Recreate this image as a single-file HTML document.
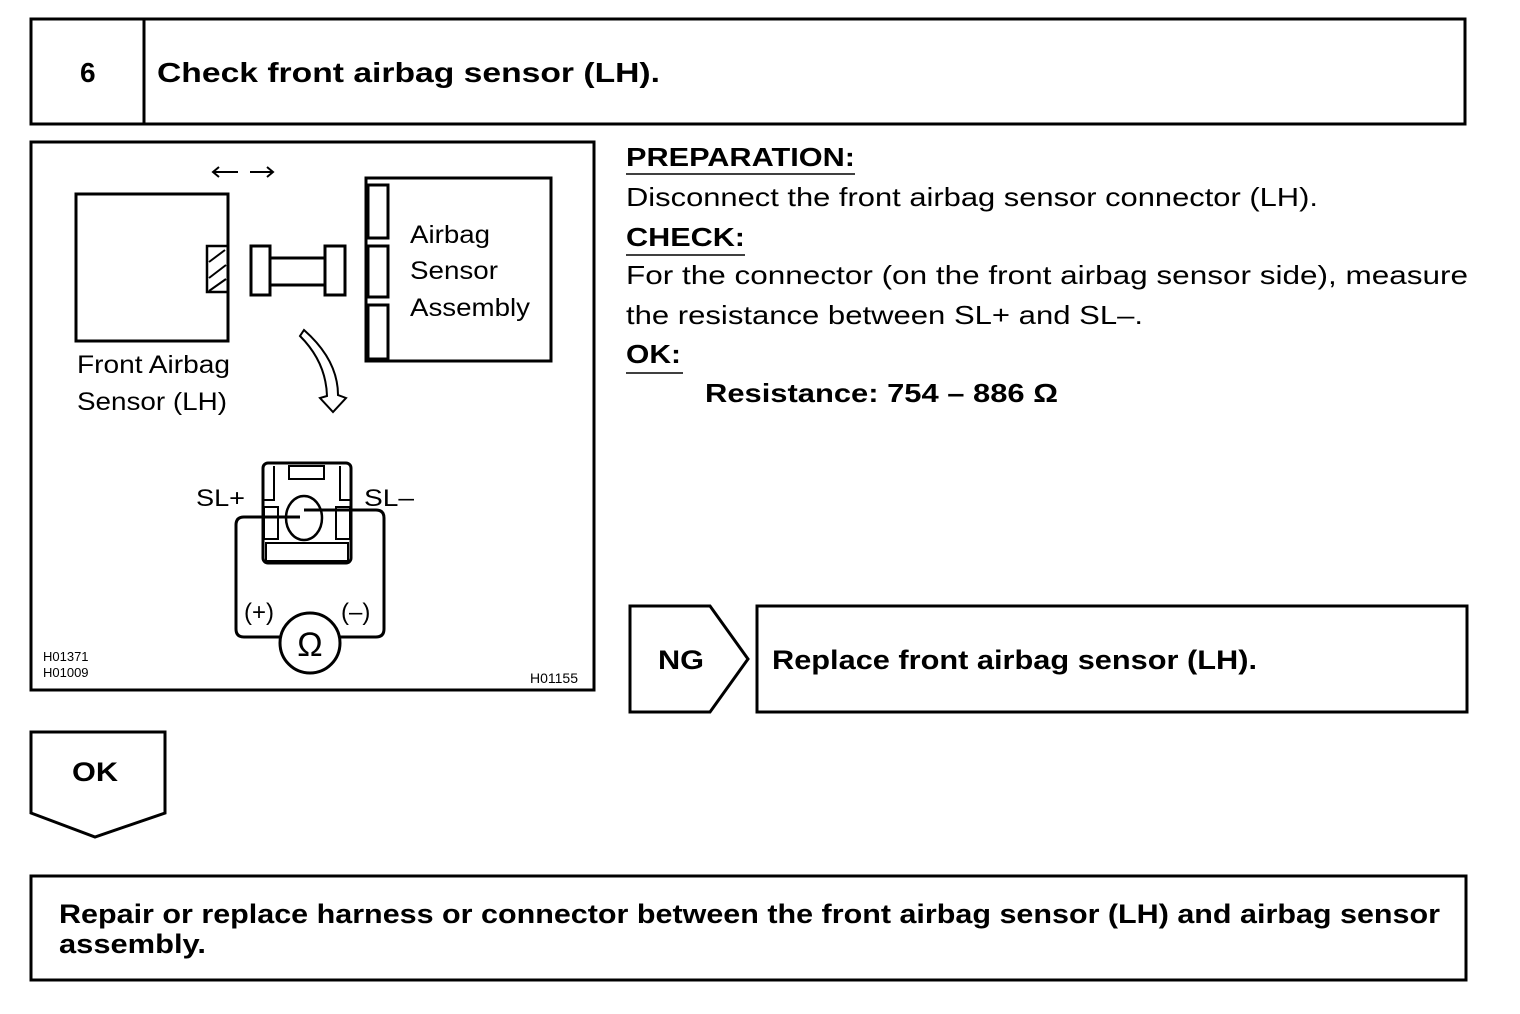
<!DOCTYPE html>
<html><head><meta charset="utf-8"><style>
body{margin:0;background:#fff;}
svg{display:block}
text{font-family:"Liberation Sans",Arial,sans-serif;fill:#000}
.b{font-weight:bold}
</style></head><body>
<svg width="1520" height="1014" viewBox="0 0 1520 1014" xmlns="http://www.w3.org/2000/svg">
<g fill="none" stroke="#000" stroke-width="3">
<rect x="31" y="19" width="1434" height="105"/>
<line x1="144" y1="19" x2="144" y2="124"/>
<rect x="31" y="142" width="563" height="548"/>
<polygon points="630,606 710,606 748,659 710,712 630,712"/>
<rect x="757" y="606" width="710" height="106"/>
<polygon points="31,732 165,732 165,813 95,837 31,813"/>
<rect x="31" y="876" width="1435" height="104"/>
<!-- diagram -->
<rect x="76" y="194" width="152" height="147"/>
<rect x="207" y="246" width="21" height="46" stroke-width="2.5"/>
<rect x="251" y="246" width="19" height="49"/>
<rect x="270" y="258" width="55" height="27"/>
<rect x="325" y="246" width="20" height="49"/>
<rect x="366" y="178" width="185" height="183"/>
<rect x="368" y="185" width="20" height="53"/>
<rect x="368" y="246" width="20" height="51"/>
<rect x="368" y="305" width="20" height="54"/>
<path d="M304 330 Q338 360 338 395 L346 398 L333 412 L320 398 L327 396 Q326 362 300 336 Z" stroke-width="2"/>
<rect x="263" y="463" width="88" height="100" rx="5"/>
<rect x="289" y="466" width="35" height="13" stroke-width="2"/>
<g stroke-width="2">
<path d="M263 500 L274 500 L274 466"/>
<path d="M351 500 L340 500 L340 466"/>
<rect x="264" y="507" width="14" height="32"/>
<rect x="336" y="507" width="14" height="32"/>
<rect x="266" y="543" width="82" height="18"/>
</g>
<path d="M300 517 L244 517 Q236 517 236 525 L236 629 Q236 637 244 637 L376 637 Q384 637 384 629 L384 518 Q384 510 376 510 L304 510"/>
<ellipse cx="304" cy="518" rx="18" ry="22" stroke-width="2.5"/>
<circle cx="310" cy="643" r="30" fill="#fff"/>
</g>
<g stroke="#000" stroke-width="2">
<line x1="213" y1="172" x2="238" y2="172"/><path d="M219 167 L213 172 L219 177" fill="none"/>
<line x1="250" y1="172" x2="273" y2="172"/><path d="M267 167 L273 172 L267 177" fill="none"/>
<line x1="209" y1="262" x2="225" y2="250"/><line x1="209" y1="278" x2="226" y2="265"/><line x1="209" y1="291" x2="226" y2="279"/>
</g>
<text x="80" y="82" font-size="28" class="b" textLength="17">6</text>
<text x="157" y="82" font-size="28" class="b" textLength="503" lengthAdjust="spacingAndGlyphs">Check front airbag sensor (LH).</text>
<text x="410" y="243" font-size="25" textLength="80" lengthAdjust="spacingAndGlyphs">Airbag</text>
<text x="410" y="279" font-size="25" textLength="88" lengthAdjust="spacingAndGlyphs">Sensor</text>
<text x="410" y="316" font-size="25" textLength="120" lengthAdjust="spacingAndGlyphs">Assembly</text>
<text x="77" y="373" font-size="25" textLength="153" lengthAdjust="spacingAndGlyphs">Front Airbag</text>
<text x="77" y="410" font-size="25" textLength="150" lengthAdjust="spacingAndGlyphs">Sensor (LH)</text>
<text x="196" y="506" font-size="24" textLength="49" lengthAdjust="spacingAndGlyphs">SL+</text>
<text x="364" y="506" font-size="24" textLength="50" lengthAdjust="spacingAndGlyphs">SL–</text>
<text x="244" y="620" font-size="24">(+)</text>
<text x="341" y="620" font-size="24">(–)</text>
<text x="310" y="656" font-size="34" text-anchor="middle">Ω</text>
<text x="43" y="661" font-size="13">H01371</text>
<text x="43" y="677" font-size="13">H01009</text>
<text x="530" y="683" font-size="14">H01155</text>
<g font-size="26">
<text x="626" y="166" class="b" textLength="229" lengthAdjust="spacingAndGlyphs">PREPARATION:</text>
<text x="626" y="206" textLength="692" lengthAdjust="spacingAndGlyphs">Disconnect the front airbag sensor connector (LH).</text>
<text x="626" y="246" class="b" textLength="119" lengthAdjust="spacingAndGlyphs">CHECK:</text>
<text x="626" y="284" textLength="842" lengthAdjust="spacingAndGlyphs">For the connector (on the front airbag sensor side), measure</text>
<text x="626" y="324" textLength="517" lengthAdjust="spacingAndGlyphs">the resistance between SL+ and SL–.</text>
<text x="626" y="363" class="b" textLength="55" lengthAdjust="spacingAndGlyphs">OK:</text>
<text x="705" y="402" class="b" textLength="353" lengthAdjust="spacingAndGlyphs">Resistance: 754 – 886 Ω</text>
</g>
<g stroke="#000" stroke-width="1.5">
<line x1="626" y1="174" x2="855" y2="174"/>
<line x1="626" y1="255" x2="745" y2="255"/>
<line x1="626" y1="373" x2="683" y2="373"/>
</g>
<text x="658" y="669" font-size="27" class="b" textLength="46" lengthAdjust="spacingAndGlyphs">NG</text>
<text x="772" y="669" font-size="27" class="b" textLength="485" lengthAdjust="spacingAndGlyphs">Replace front airbag sensor (LH).</text>
<text x="72" y="781" font-size="27" class="b" textLength="46" lengthAdjust="spacingAndGlyphs">OK</text>
<text x="59" y="923" font-size="27" class="b" textLength="1381" lengthAdjust="spacingAndGlyphs">Repair or replace harness or connector between the front airbag sensor (LH) and airbag sensor</text>
<text x="59" y="953" font-size="27" class="b" textLength="147" lengthAdjust="spacingAndGlyphs">assembly.</text>
</svg>
</body></html>
